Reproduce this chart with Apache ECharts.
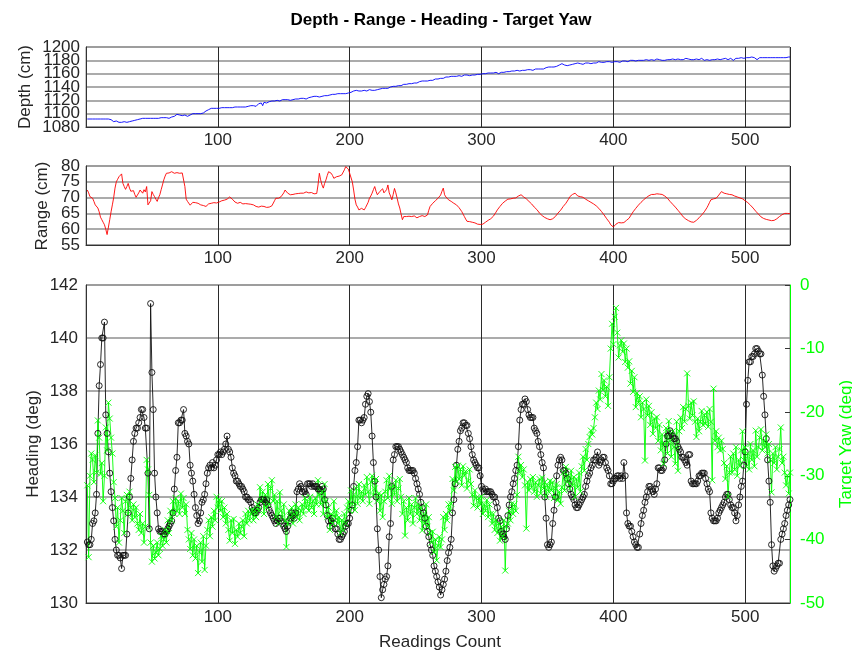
<!DOCTYPE html>
<html>
<head>
<meta charset="utf-8">
<script src="https://cdn.jsdelivr.net/npm/echarts@6/dist/echarts.min.js"></script>
<style>
html, body { margin: 0; padding: 0; background: #fff; }
#chart { width: 852px; height: 652px; }
</style>
</head>
<body>
<div id="chart"></div>
<script>
// Depth readings (cm), one per reading, reading 1..534
const depthCm = [
1092,1092,1092,1092,1092,1092,1092,1092,1092,1092,1092,1092,1092,1092,1092,1092,1092,1092,
1091,1090,1088,1090,1089,1087,
1087,1088,1087,1089,1088,1087,1087,1087,1088,1088,1089,1090,1090,1091,1091,1092,
1092,1092,1093,1092,1093,1093,1093,1092,1093,1093,1093,1094,1093,1093,1093,
1094,1094,1093,1094,1095,1094,1094,1093,1094,1095,1095,1096,1097,
1099,1096,1098,1100,1097,1095,1098,1100,1096,1099,1098,1100,
1100,1101,1100,1099,1100,1101,1100,1100,1101,1102,
1104,1106,1106,1107,1108,1107,1108,1108,1108,1109,
1108,1108,1109,1109,1109,1108,1109,1109,1109,1110,1109,1109,1110,1110,1110,1109,1110,1110,1110,1111,1110,1110,1111,1111,1112,
1113,1112,1114,1111,1114,1115,1113,1116,1112,1117,
1118,1116,1119,1118,1118,1119,1120,1119,1120,1120,1121,1119,1120,1121,1121,
1121,1120,1121,1122,1120,1122,1121,1122,1122,1123,1122,1121,1123,1122,1123,1124,1122,1124,1124,1125,
1125,1124,1126,1125,1126,1126,1125,1127,1126,1127,1127,1128,1127,1128,1128,
1128,1129,1128,1129,1129,1130,1129,1130,1130,1130,1131,1130,1130,1131,1131,
1132,1134,1134,1133,1135,1134,1134,1135,1134,1135,
1135,1135,1134,1135,1136,1135,1135,1136,1135,1134,1136,1136,1137,1136,1138,1137,1138,1139,1138,1140,
1140,1141,1141,1142,1141,1142,1142,1143,1142,1143,1144,1143,1144,1145,1145,
1146,1145,1147,1146,1148,1146,1147,1148,1147,1149,1148,1149,1150,1149,1150,
1150,1151,1150,1151,1152,1151,1152,1152,1153,1152,1153,1154,1155,1154,1155,
1156,1156,1155,1156,1157,1156,1157,1157,1157,1156,1157,1158,1157,1158,1158,1157,1158,1158,1159,1158,1159,1159,1158,1159,1159,
1160,1159,1160,1160,1161,1160,1161,1160,1161,1161,1162,1161,1160,1162,1162,1163,1162,1163,1163,1163,
1163,1164,1164,1163,1164,1164,1165,1164,1164,1165,1165,1164,1165,1165,1166,1165,1166,1166,1165,1166,1167,1166,1167,1167,1167,
1168,1167,1168,1169,1168,1170,1169,1170,1171,1170,
1172,1171,1174,1173,1172,1175,1172,1173,1170,1172,1174,1173,1171,1174,1175,
1175,1174,1176,1175,1175,1176,1174,1176,1176,1177,1176,1177,1175,1177,1176,1178,1176,1177,1178,1177,1177,1178,1177,1178,1178,1177,1178,1179,1177,1178,
1178,1179,1178,1179,1177,1179,1179,1178,1179,1180,1178,1179,1180,1179,1180,1180,1179,1180,1180,1181,
1180,1181,1180,1180,1181,1180,1180,1181,1181,1180,1180,1181,1182,1180,1181,1181,1180,1181,1180,1181,1181,1182,1181,1181,1182,1183,1181,1181,1182,1181,1181,1182,1181,1181,1183,1181,1182,1181,1181,1183,1181,1180,1182,1181,1181,1182,1183,1181,1180,1182,
1181,1182,1180,1183,1181,1182,1181,1179,1182,1183,1181,1181,1182,1180,1183,1182,1181,1182,1183,1182,1180,1181,1183,1182,1183,1182,1184,1183,1183,1184,
1184,1185,1184,1184,1185,1184,1184,1183,1181,1184,1184,1184,1184,1184,1184,1185,1184,1184,1184,1184,1184,1184,1184,1184,1184,1184,1184,1184,1184,1184,1184,1184,1185,1185
];

// Range to target (cm)
const rangeCm = [
72.4,71.5,70.3,70.0,69.8,68.8,67.7,67.2,66.7,65.5,
63.8,63.0,62.2,61.4,60.0,58.3,58.8,63.0,65.5,67.7,
70.0,73.0,75.0,75.8,76.6,77.0,77.5,74.5,73.5,72.6,
73.5,74.5,73.0,72.0,72.6,72.2,71.0,70.1,70.8,71.5,
72.4,72.0,71.4,72.5,71.8,73.5,67.7,67.4,69.0,71.9,
71.0,70.3,69.5,68.8,70.0,70.9,72.5,74.0,75.6,76.8,
77.7,77.5,77.8,78.0,78.2,77.8,77.7,78.0,77.9,77.7,
77.7,77.9,77.8,77.7,73.5,69.5,68.8,68.2,67.6,67.2,
68.5,68.0,68.4,67.8,68.2,68.0,67.7,68.3,67.5,67.8,
67.2,67.5,68.0,67.6,68.2,68.0,68.4,68.2,68.3,68.5,
68.6,68.8,69.0,68.9,69.2,69.3,69.5,69.8,70.2,70.1,
69.5,68.9,68.6,68.8,68.2,68.2,68.5,68.3,68.0,68.4,
68.1,67.9,68.0,67.9,67.9,67.5,67.7,67.4,67.2,67.4,
67.0,67.1,67.3,67.0,67.2,67.1,66.9,67.2,67.0,67.3,
67.4,68.0,69.0,69.8,70.0,69.8,70.1,70.3,70.5,71.5,
72.4,71.9,71.4,71.0,70.9,70.7,71.0,70.8,71.2,71.0,
71.3,71.0,71.4,71.6,71.4,71.2,71.8,71.9,71.5,71.2,
71.6,71.0,71.2,70.9,71.3,74.0,77.7,75.6,74.0,73.0,
74.5,75.6,77.0,78.2,78.0,77.7,77.0,76.1,76.3,76.6,
76.2,76.8,76.5,77.2,77.7,78.8,79.8,80.0,79.0,77.7,
77.2,75.0,72.4,69.5,67.7,67.0,66.1,66.5,66.6,66.0,
66.1,66.8,67.4,68.5,69.8,70.5,71.4,72.5,73.5,72.0,
70.9,71.5,72.0,71.9,72.8,71.5,71.0,72.5,74.0,71.5,
70.5,69.3,71.0,72.9,71.5,69.8,68.0,66.7,64.8,63.0,
64.0,64.6,64.0,64.3,64.1,64.5,64.0,63.8,64.2,64.0,
63.6,63.5,64.0,63.8,64.3,64.6,64.0,63.6,64.5,66.0,
67.2,67.6,68.2,68.8,69.0,69.3,69.8,70.3,70.8,72.0,
73.0,70.9,70.2,69.8,69.3,69.0,68.8,68.5,68.2,67.9,
67.7,67.2,66.8,66.2,65.6,64.8,64.0,63.2,62.5,62.3,
62.4,62.0,62.2,61.9,62.0,61.6,61.6,61.3,61.5,61.4,
61.6,61.9,62.2,62.5,62.8,63.0,63.3,63.5,64.1,64.6,
65.4,66.1,66.6,67.2,67.8,68.2,68.6,68.9,69.3,69.5,
69.3,69.6,69.4,69.8,70.0,69.9,70.3,70.5,70.6,70.9,
70.6,70.2,69.8,69.6,69.2,68.8,68.4,68.0,67.5,67.0,
66.7,66.2,65.6,65.1,64.6,64.3,64.0,63.7,63.5,63.3,
63.1,63.0,63.0,63.3,63.5,64.0,64.6,65.1,65.6,66.0,
66.6,67.2,67.7,68.2,68.7,69.5,70.3,70.6,71.0,71.2,
71.4,70.8,70.5,70.7,70.3,70.4,70.1,69.8,69.5,69.2,
69.0,68.8,68.5,68.2,68.0,67.7,67.4,67.0,66.6,66.1,
65.6,65.0,64.5,64.0,63.3,62.8,62.2,61.4,61.0,60.7,
61.0,61.6,62.1,62.1,62.2,62.0,62.3,62.1,62.5,62.8,
63.1,63.5,64.2,64.8,65.5,66.1,66.6,67.0,67.6,68.2,
68.5,68.9,69.3,69.8,70.0,70.4,70.6,70.9,71.0,71.2,
71.0,71.4,71.2,71.3,71.1,71.2,71.0,70.8,70.5,70.2,
69.8,69.3,68.8,68.3,67.9,67.5,67.0,66.5,66.0,65.5,
65.0,64.4,63.9,63.5,63.2,62.9,62.7,62.5,62.3,62.4,
62.2,62.5,62.8,63.2,63.6,64.0,64.5,65.0,65.5,66.1,
66.8,67.6,68.5,69.3,69.5,69.6,69.9,69.8,70.3,70.8,
71.3,71.9,71.6,71.4,71.6,71.2,71.3,71.0,71.1,70.9,
70.7,70.5,70.3,70.2,70.0,69.9,69.8,69.6,69.3,69.0,
68.8,68.4,68.0,67.6,67.2,66.7,66.2,65.7,65.2,64.8,
64.3,63.9,63.5,63.4,63.2,63.1,63.0,62.9,62.8,62.7,
62.7,62.8,63.0,63.3,63.7,64.0,64.3,64.6,64.8,65.0,
65.1,65.0,64.9,64.9
];

// Vehicle heading (deg)
const headingDeg = [
132.3,132.2,132.2,132.4,133.0,133.1,133.4,134.1,136.4,138.2,
139.0,140.0,140.0,140.6,137.1,136.4,135.7,134.9,134.2,133.6,
133.1,132.4,132.0,131.8,131.8,131.7,131.3,131.8,131.8,131.8,
132.6,133.4,134.0,134.7,135.4,136.1,136.4,136.6,136.6,136.8,
137.0,137.3,137.3,137.0,136.6,136.6,134.9,132.8,141.3,138.7,
137.3,134.9,134.0,133.4,132.8,132.7,132.7,132.7,132.6,132.6,
132.7,132.8,132.9,133.0,133.1,133.4,134.3,135.0,135.5,136.8,
136.8,136.9,136.9,137.3,136.4,136.3,136.1,136.0,135.2,134.9,
134.6,134.1,133.6,133.3,133.0,133.1,133.4,133.8,133.9,134.1,
134.5,134.9,135.1,135.2,135.1,135.3,135.1,135.2,135.4,135.6,
135.6,135.7,135.6,135.7,135.8,136.0,136.3,135.8,135.7,135.5,
135.1,134.9,134.8,134.6,134.6,134.5,134.4,134.4,134.3,134.2,
134.0,134.0,133.9,133.9,133.8,133.6,133.5,133.4,133.4,133.5,
133.6,133.8,133.9,133.9,133.9,133.8,133.9,133.7,133.5,133.4,
133.3,133.2,133.1,133.0,133.1,133.2,133.2,133.1,133.0,132.9,
132.8,132.7,132.9,133.1,133.2,133.4,133.3,133.2,133.4,134.2,
134.3,134.5,134.4,134.2,134.3,134.2,134.1,134.5,134.5,134.5,
134.4,134.5,134.4,134.4,134.4,134.3,134.3,134.2,134.4,134.3,
133.9,133.7,133.3,133.1,132.9,133.1,133.2,133.0,132.8,132.8,
132.6,132.4,132.4,132.5,132.6,132.7,132.9,133.0,133.0,133.2,
133.5,133.7,134.4,135.0,135.3,135.9,136.9,136.9,136.8,136.9,
137.0,137.5,137.8,137.9,137.6,137.2,136.3,135.3,134.6,134.0,
132.8,132.0,131.0,130.2,130.5,130.7,130.9,131.0,131.4,132.5,
133.0,134.4,135.4,135.6,135.9,135.9,135.9,135.8,135.7,135.6,
135.5,135.4,135.3,135.1,135.0,135.0,135.0,135.0,134.9,134.7,
134.5,134.3,134.1,133.8,133.6,133.4,133.2,132.9,132.7,132.5,
132.2,132.0,131.8,131.4,131.2,131.0,130.8,130.6,130.3,130.5,
130.7,130.9,131.2,131.6,131.9,132.1,132.4,133.4,133.9,134.5,
135.2,135.8,136.1,136.5,136.6,136.8,136.8,136.7,136.7,136.4,
136.2,135.9,135.6,135.4,135.3,135.2,135.1,135.1,134.8,134.4,
134.3,134.2,134.3,134.2,134.2,134.2,134.2,134.1,134.0,134.0,
133.8,133.6,133.2,133.1,132.7,132.6,132.5,132.4,132.8,133.3,
133.7,134.0,134.2,134.5,134.7,135.0,135.2,135.9,136.9,137.3,
137.5,137.5,137.7,137.6,137.3,137.1,137.0,137.0,137.0,136.6,
136.5,136.4,136.1,135.9,135.6,135.3,135.1,134.0,133.2,132.2,
132.1,132.2,132.3,133.0,133.5,134.0,134.8,135.2,135.4,135.5,
135.4,135.0,135.0,134.9,134.7,134.5,134.3,134.1,134.0,133.9,
133.7,133.6,133.6,133.7,133.8,133.9,134.0,134.1,134.4,134.6,
134.8,134.9,135.1,135.2,135.4,135.4,135.5,135.7,135.2,135.3,
135.4,135.5,135.5,135.3,135.1,135.0,134.8,134.5,134.5,134.6,
134.7,134.7,134.8,134.8,134.7,134.8,134.7,135.3,134.8,133.4,
133.0,132.9,132.9,132.7,132.5,132.3,132.2,132.1,132.1,132.6,
133.0,133.3,133.5,133.8,134.0,134.2,134.4,134.4,134.3,134.2,
134.1,134.3,134.5,135.1,135.1,135.0,135.0,135.1,135.4,136.0,
136.3,136.3,136.5,136.4,136.3,136.2,136.2,136.1,135.9,135.8,
135.7,135.5,135.5,135.4,135.3,135.2,135.6,135.6,134.6,134.5,
134.5,134.5,134.5,134.6,134.8,134.8,134.9,134.9,134.9,134.7,
134.5,134.3,134.2,133.4,133.2,133.1,133.1,133.1,133.2,133.4,
133.5,133.6,133.7,133.8,134.0,134.1,134.1,133.9,133.7,133.6,
133.6,133.4,133.1,133.3,133.7,134.0,134.4,134.6,135.2,135.7,
137.5,138.4,139.1,139.1,139.3,139.3,139.4,139.6,139.6,139.5,
139.4,139.4,138.6,137.8,137.1,136.2,135.4,134.6,133.8,132.2,
131.4,131.2,131.3,131.4,131.5,131.5,132.4,132.6,132.8,133.0,
133.3,133.5,133.7,133.9
];

// Commanded target yaw (deg)
const targetYawDeg = [
-31.5,-42.8,-30,-26.5,-27.5,-31,-26.8,-29.5,-21.3,-24,
-29.7,-28,-34,-30,-22.4,-26,-18.5,-21,-24,-26.5,
-31,-33.5,-38,-35,-40.5,-37,-33.5,-35.5,-39,-34,
-33,-36,-32.5,-35,-37,-34.5,-36.5,-35,-37.5,-38.5,
-36,-39,-37.5,-40.5,-38,-27.5,-29,-33,-40.5,-43.5,
-41,-43,-42,-40.5,-42.5,-41.5,-39.5,-41,-40,-38.5,
-40.5,-37,-39,-35.5,-37,-34,-36,-33.5,-35.5,-34,
-36,-32.8,-35,-33.5,-36,-34.5,-38.5,-40,-41.5,-39,
-42.5,-40,-43,-41,-45.3,-42,-40.5,-43.5,-39.5,-44.8,
-41,-38.5,-37,-39.5,-36.5,-38,-35.5,-37,-33.3,-35,
-33.8,-35.5,-34,-36.5,-35,-37.5,-36,-38.5,-40.2,-37,
-39,-36.8,-40.7,-38.5,-39.6,-37.5,-39,-38,-37,-39.5,
-36,-37.5,-35.5,-37,-36,-35.4,-37,-35.5,-36.5,-34.5,
-35.5,-31.8,-34,-32.5,-36,-33,-35,-31.3,-34.5,-32,
-30.7,-34,-33,-36.5,-34,-37.5,-32.6,-35.5,-36.5,-34.5,
-37,-41.2,-37.5,-35.5,-36.5,-35,-37.5,-36,-34.5,-36.5,
-35,-37,-35.5,-34.5,-36,-33.5,-35,-34,-35.5,-33.3,
-35,-34,-36,-33.5,-34.5,-30.7,-33,-34.5,-32.5,-36,
-31.3,-34,-36.5,-35,-38.5,-36,-37.5,-34,-36.5,-35.5,
-37.5,-36.5,-39,-37,-38.5,-36,-37.5,-35,-34,-35.5,
-32.3,-34.5,-33,-35.4,-32,-34.4,-31.3,-33.5,-32.5,-34,
-31.5,-33,-30.2,-32.5,-34.4,-31,-30,-33,-32,-30.5,
-34,-32.8,-35.5,-33,-36.5,-34,-32.5,-30.7,-33.5,-30,
-32,-34.4,-31.5,-33,-30.7,-34,-32,-30.5,-33.3,-36,
-34,-39.4,-35,-37,-33.5,-36,-34.5,-37.5,-35,-33.5,
-36,-34.5,-37,-35,-38.6,-36,-37.5,-34.5,-38,-36.5,
-39,-40.5,-38.8,-42,-40,-43.3,-41,-39.6,-41.2,-40,
-36.5,-38.5,-36,-37,-34.5,-35.5,-34.4,-30.5,-32.3,-28.6,
-31,-28.4,-30.5,-29,-31.5,-28.5,-30,-29.3,-32,-30.8,
-29,-31.3,-33,-34.7,-32.3,-33.5,-35,-33.5,-34.5,-33.3,
-36,-34.5,-35.5,-33.8,-36.5,-34.5,-36,-37.5,-36,-38.5,
-37,-39,-37.5,-40.2,-38,-39.5,-37,-44.9,-38,-37.5,
-35.5,-37,-34.4,-36,-34.5,-35.5,-33,-27,-29.5,-28.3,
-30.2,-29,-31.5,-38.3,-31,-32.3,-30.5,-31.8,-30.2,-32.5,
-31,-33.3,-31.5,-30.5,-32.8,-30.3,-32,-31,-33.3,-31.5,
-32.5,-30.8,-32.3,-31,-33.5,-32,-31.3,-33.8,-32.5,-34.4,
-31.8,-29.5,-32.3,-28.6,-31,-30,-32,-29.2,-31.5,-30.2,
-33.3,-30.5,-31.8,-29.5,-32.5,-28.5,-27,-29.2,-25.8,-27.5,
-25,-23.9,-22.9,-23.5,-22.5,-20.8,-18.5,-19.5,-16.6,-18,
-14,-16.5,-15,-17.5,-16,-19,-14.5,-10,-6.1,-9.3,
-5,-3.6,-7.5,-11.4,-9.5,-8.7,-10.5,-9.2,-12.1,-10,
-13,-12,-15.5,-13.5,-16.8,-14.5,-19.2,-17,-18.5,-17.5,
-20.8,-18.5,-19.5,-27.6,-18,-20.5,-19,-22,-20,-23.4,
-21,-22.5,-20.8,-24.5,-22,-26,-23.5,-28.1,-25,-22.5,
-26.5,-21.4,-24.5,-27,-23,-25.5,-28.1,-21.5,-29.2,-23,
-20.8,-22.5,-19.2,-21.5,-19.5,-13.9,-19,-21,-18.5,-20.5,
-18.3,-21.5,-23.9,-21,-23,-21.5,-19.8,-22,-20.5,-21.8,
-20,-22.3,-19.5,-21.5,-30.7,-16.3,-24.5,-23,-25.5,-24,
-26,-24.5,-25.8,-28,-30.5,-28.5,-33.3,-29.5,-27,-29.5,
-26.5,-29,-25.5,-30,-27.5,-28.5,-26,-23,-27.5,-25.5,
-28.5,-26.5,-29,-25,-27.5,-26,-28.5,-22.9,-27,-25.5,
-24,-22.7,-26,-24.5,-25.5,-23.5,-26.5,-25,-27.5,-32.6,
-26.5,-28,-25.5,-29,-27,-25.8,-22.4,-28,-27,-29.5,
-31.5,-30,-32.8,-29.5
];

// Axis extents and tick steps
const readingsMax = 534;
const readingsStep = 100;
const depthTicks = { min: 1080, max: 1200, step: 20 };
const rangeTicks = { min: 55, max: 80, step: 5 };
const headingTicks = { min: 130, max: 142, step: 2 };
const yawTicks = { min: -50, max: 0, step: 10 };
// Tick labels of the two short panels, drawn as free text so none get dropped
const depthTickLabels = [1080, 1100, 1120, 1140, 1160, 1180, 1200];
const rangeTickLabels = [55, 60, 65, 70, 75, 80];

const FONT = "'Liberation Sans', Arial, Helvetica, sans-serif";
const TEXT = '#262626';
const H_GRID = '#8f8f8f';
const V_GRID = '#2a2a2a';

const asPoints = arr => arr.map((v, i) => [i + 1, v]);
const plain = v => String(v);

const grids = [
  { left: 86, top: 47, width: 704, height: 80 },
  { left: 86, top: 166, width: 704, height: 79 },
  { left: 86, top: 285, width: 704, height: 318 }
].map(g => Object.assign(g, { show: true, borderColor: '#8f8f8f', borderWidth: 1, backgroundColor: 'transparent' }));

function readingsAxis(gridIndex, margin) {
  return {
    type: 'value', gridIndex, min: 0, max: readingsMax, interval: readingsStep,
    axisLine: { show: true, onZero: false, lineStyle: { color: '#333', width: 1 } },
    axisTick: { show: false },
    axisLabel: { showMinLabel: false, showMaxLabel: false, formatter: plain, fontFamily: FONT, fontSize: 17, color: TEXT, margin },
    splitLine: { show: true, lineStyle: { color: V_GRID, width: 1 } }
  };
}

function labelStyle(color, margin) {
  return { showMinLabel: true, showMaxLabel: true, hideOverlap: false, formatter: plain,
           fontFamily: FONT, fontSize: 17, color, margin };
}

function valueAxis(gridIndex, t, extra) {
  return Object.assign({
    type: 'value', gridIndex, min: t.min, max: t.max, interval: t.step,
    axisLine: { show: true, onZero: false, lineStyle: { color: '#333', width: 1 } },
    axisTick: { show: false },
    axisLabel: labelStyle(TEXT, 6),
    splitLine: { show: true, lineStyle: { color: H_GRID, width: 1.6 } }
  }, extra || {});
}

const chart = echarts.init(document.getElementById('chart'), null, { renderer: 'canvas' });

chart.setOption({
  animation: false,
  backgroundColor: '#fff',
  grid: grids,
  xAxis: [readingsAxis(0, 5), readingsAxis(1, 5), readingsAxis(2, 6)],
  yAxis: [
    valueAxis(0, depthTicks, { axisLabel: { show: false } }),
    valueAxis(1, rangeTicks, { axisLabel: { show: false } }),
    valueAxis(2, headingTicks, { axisLabel: labelStyle(TEXT, 8) }),
    valueAxis(2, yawTicks, {
      position: 'right',
      axisLine: { show: true, onZero: false, lineStyle: { color: '#00ff00', width: 1 } },
      axisTick: { show: true, inside: true, length: 5, lineStyle: { color: '#333' } },
      axisLabel: labelStyle('#00ff00', 10),
      splitLine: { show: false }
    })
  ],
  series: [
    {
      name: 'Depth', type: 'line', xAxisIndex: 0, yAxisIndex: 0,
      data: asPoints(depthCm), showSymbol: false,
      lineStyle: { color: '#0000ff', width: 0.9 }
    },
    {
      name: 'Range', type: 'line', xAxisIndex: 1, yAxisIndex: 1,
      data: asPoints(rangeCm), showSymbol: false,
      lineStyle: { color: '#ff0000', width: 0.9 }
    },
    {
      name: 'Heading', type: 'line', xAxisIndex: 2, yAxisIndex: 2,
      data: asPoints(headingDeg), symbol: 'circle', symbolSize: 6,
      itemStyle: { color: 'rgba(255,255,255,0)', borderColor: '#111', borderWidth: 0.9 },
      lineStyle: { color: '#111', width: 0.9 }
    },
    {
      name: 'Target Yaw', type: 'line', xAxisIndex: 2, yAxisIndex: 3,
      data: asPoints(targetYawDeg), symbol: 'path://M0,0L10,10M10,0L0,10', symbolSize: 6,
      itemStyle: { color: '#00ff00', borderColor: '#00ff00', borderWidth: 0.9 },
      lineStyle: { color: '#00ff00', width: 0.9 }
    }
  ]
});

// Titles, axis names, and the crowded tick labels of the two upper panels
const texts = [
  { type: 'text', x: 441, y: 20, style: { text: 'Depth - Range - Heading - Target Yaw', font: 'bold 17px ' + FONT, fill: '#000', align: 'center', verticalAlign: 'middle' } },
  { type: 'text', x: 25, y: 87, rotation: Math.PI / 2, style: { text: 'Depth (cm)', font: '17px ' + FONT, fill: TEXT, align: 'center', verticalAlign: 'middle' } },
  { type: 'text', x: 42, y: 206, rotation: Math.PI / 2, style: { text: 'Range (cm)', font: '17px ' + FONT, fill: TEXT, align: 'center', verticalAlign: 'middle' } },
  { type: 'text', x: 33, y: 444, rotation: Math.PI / 2, style: { text: 'Heading (deg)', font: '17px ' + FONT, fill: TEXT, align: 'center', verticalAlign: 'middle' } },
  { type: 'text', x: 846, y: 444, rotation: Math.PI / 2, style: { text: 'Target Yaw (deg)', font: '17px ' + FONT, fill: '#00ff00', align: 'center', verticalAlign: 'middle' } },
  { type: 'text', x: 440, y: 642, style: { text: 'Readings Count', font: '17px ' + FONT, fill: TEXT, align: 'center', verticalAlign: 'middle' } }
];
const tickText = (axisIndex, values) => values.map(v => ({
  type: 'text', x: 80, y: chart.convertToPixel({ yAxisIndex: axisIndex }, v),
  style: { text: String(v), font: '17px ' + FONT, fill: TEXT, align: 'right', verticalAlign: 'middle' }
}));
chart.setOption({ graphic: texts.concat(tickText(0, depthTickLabels), tickText(1, rangeTickLabels)) });
</script>
</body>
</html>
